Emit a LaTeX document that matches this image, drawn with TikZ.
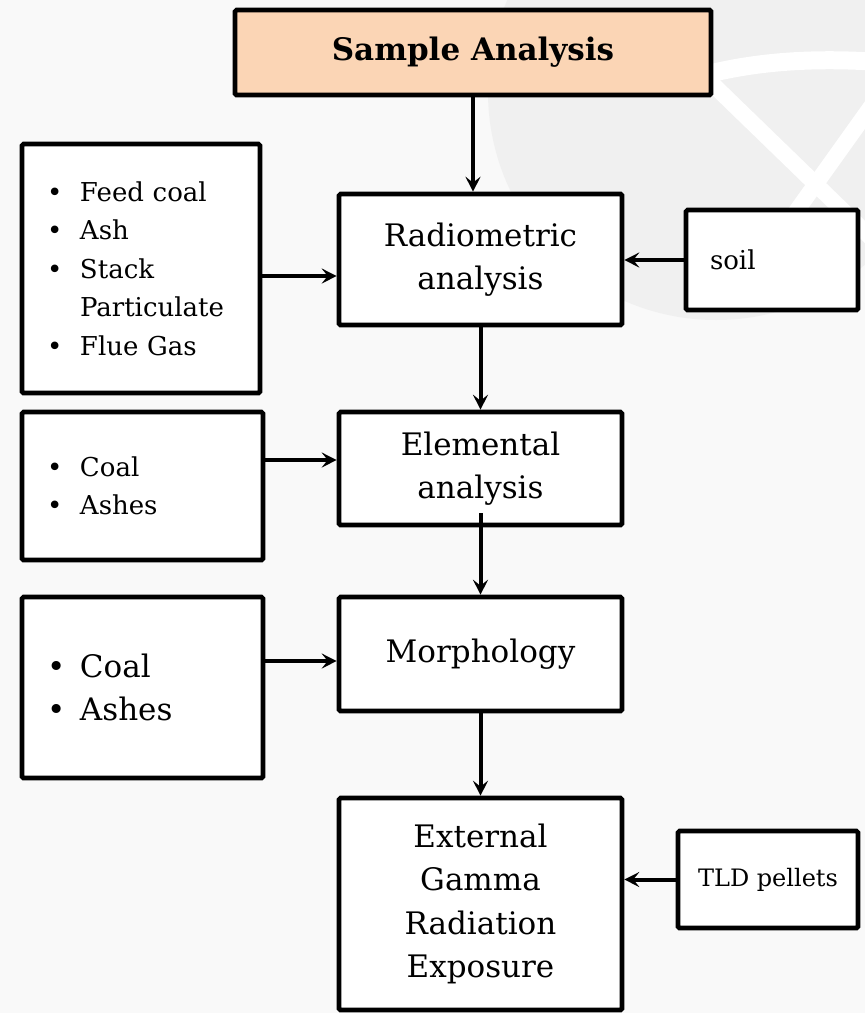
\documentclass[tikz,border=0pt]{standalone}
\usepackage{fontspec}
\setmainfont{DejaVu Serif}
\usetikzlibrary{arrows.meta,calc}
\definecolor{bgc}{HTML}{F9F9F9}
\definecolor{wmc}{HTML}{F0F0F0}
\definecolor{peach}{HTML}{FBD5B5}
\newcommand\itm[1]{\makebox[33pt][l]{\textbullet}#1}
\tikzset{
  box/.style={draw=black, line width=4.6pt, fill=white, rounded corners=1.5pt, inner sep=0pt, align=center},
  arr/.style={line width=4pt, -{Stealth[length=15pt,width=15pt,inset=6pt]}},
  bigtxt/.style={font=\fontsize{31}{43.5}\selectfont},
  midtxt/.style={font=\fontsize{26}{38.5}\selectfont},
  smalltxt/.style={font=\fontsize{24}{30}\selectfont},
}
\begin{document}
\begin{tikzpicture}[x=1pt,y=-1pt]
\fill[bgc] (0,0) rectangle (865,1013);
\useasboundingbox (0,0) rectangle (865,1013);
% faint watermark
\begin{scope}
  \clip (0,0) rectangle (865,1013);
  \fill[wmc] (716,92) circle (228);
  \clip (716,92) circle (228);
  \draw[white, line width=18pt] (700,76) .. controls (760,60) and (820,58) .. (880,62);
  \draw[white, line width=16pt] (700,72) -- (930,295);
  \draw[white, line width=16pt] (890,80) -- (740,290);
\end{scope}
% boxes
\node[box, fill=peach, minimum width=476pt, minimum height=85pt,
      font=\fontsize{31}{40}\selectfont\bfseries] (sa) at (473,52.5) {Sample Analysis};
\node[box, bigtxt, minimum width=283pt, minimum height=131pt] (rad) at (480.5,259.5) {Radiometric\\analysis};
\node[box, font=\fontsize{26}{30}\selectfont, minimum width=172pt, minimum height=100pt, text width=124pt, align=left] (soil) at (772,260) {soil};
\node[box, midtxt, minimum width=238pt, minimum height=249pt, text width=188pt, align=left] (l1) at (141,268.5)
  {\itm{Feed coal}\\\itm{Ash}\\\itm{Stack}\\\hspace*{33pt}Particulate\\\itm{Flue Gas}};
\node[box, bigtxt, minimum width=283pt, minimum height=113pt] (el) at (480.5,468.5) {Elemental\\analysis};
\node[box, midtxt, minimum width=241pt, minimum height=148pt, text width=191pt, align=left] (l2) at (142.5,486)
  {\itm{Coal}\\\itm{Ashes}};
\node[box, bigtxt, minimum width=283pt, minimum height=114pt] (mo) at (480.5,654) {Morphology};
\node[box, bigtxt, minimum width=241pt, minimum height=181pt, text width=191pt, align=left] (l3) at (142.5,687.5)
  {\itm{Coal}\\\itm{Ashes}};
\node[box, bigtxt, minimum width=283pt, minimum height=212pt] (ex) at (480.5,904) {External\\Gamma\\Radiation\\Exposure};
\node[box, smalltxt, minimum width=180pt, minimum height=97pt] (tld) at (768,879.5) {TLD pellets};
% helper coordinates
\coordinate (y1) at (0,276);
\coordinate (y2) at (0,460);
\coordinate (y3) at (0,661);
\coordinate (e0) at (480.5,513);
% connectors
\draw[arr] (sa.south) -- (sa.south |- rad.north);
\draw[arr] (l1.east |- y1) -- (rad.west |- y1);
\draw[arr] (soil.west) -- (soil.west -| rad.east);
\draw[arr] (rad.south) -- (el.north);
\draw[arr] (l2.east |- y2) -- (el.west |- y2);
\draw[arr] (e0) -- (mo.north);
\draw[arr] (l3.east |- y3) -- (mo.west |- y3);
\draw[arr] (mo.south) -- (ex.north);
\draw[arr] (tld.west) -- (tld.west -| ex.east);
\end{tikzpicture}
\end{document}
